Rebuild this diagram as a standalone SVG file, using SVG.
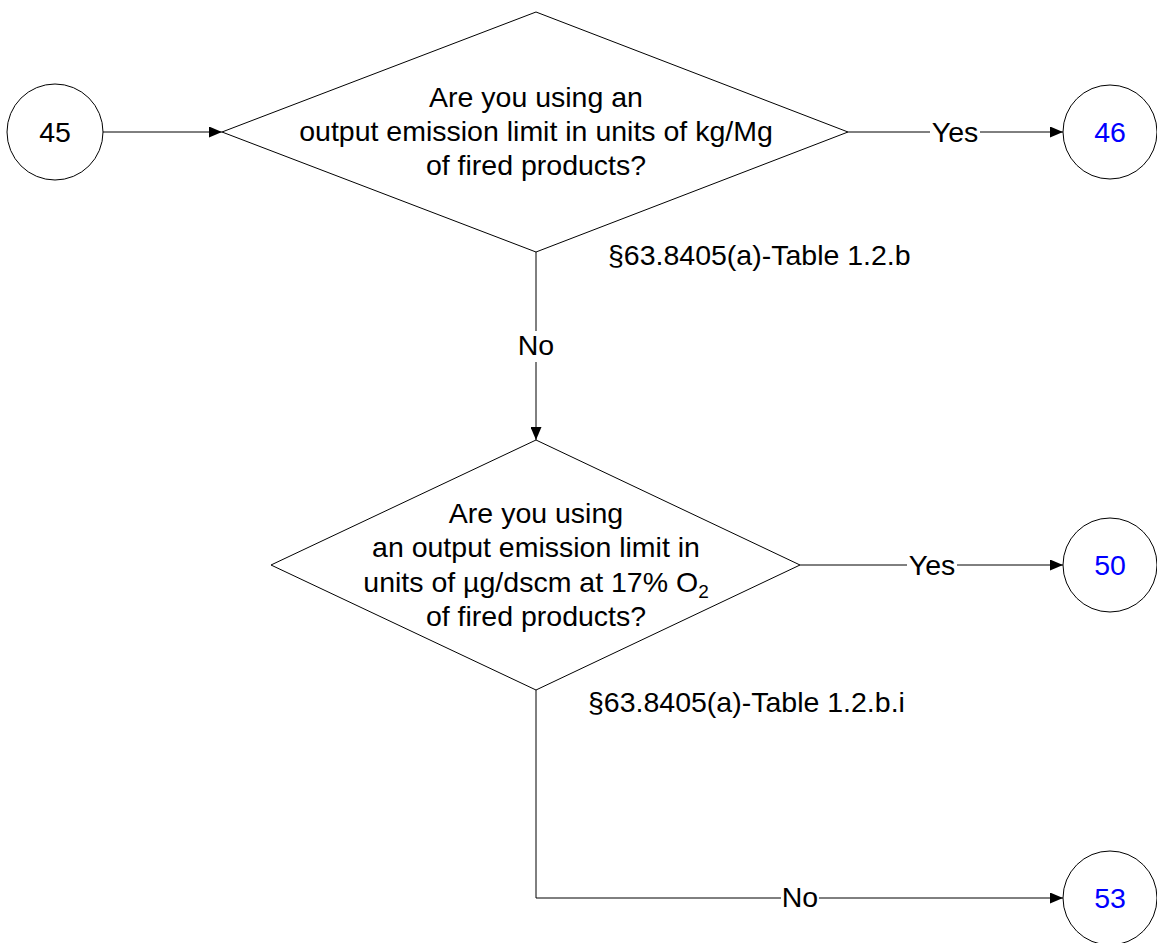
<svg xmlns="http://www.w3.org/2000/svg" width="1157" height="943" viewBox="0 0 1157 943">
<style>
.shape{fill:#fff;stroke:#000;stroke-width:1}
.conn{fill:none;stroke:#000;stroke-width:1}
.t{font-family:"Liberation Sans",Arial,sans-serif;font-size:28.5px;fill:#000;text-anchor:middle}
.lbl{font-family:"Liberation Sans",Arial,sans-serif;font-size:28.5px;fill:#000}
.blue{fill:#0000ff}
.bg{fill:#fff}
</style>
<defs>
<marker id="arr" viewBox="0 0 13 11" refX="13" refY="5.5" markerWidth="13" markerHeight="11" markerUnits="userSpaceOnUse" orient="auto">
<path d="M0,0 L13,5.5 L0,11 Z" fill="#000"/>
</marker>
</defs>
<rect width="1157" height="943" fill="#fff"/>
<g id="connectors">
<line class="conn" x1="103" y1="132" x2="222" y2="132" marker-end="url(#arr)"/>
<line class="conn" x1="848" y1="132" x2="1063" y2="132" marker-end="url(#arr)"/>
<line class="conn" x1="536" y1="252" x2="536" y2="440" marker-end="url(#arr)"/>
<line class="conn" x1="800" y1="565" x2="1063" y2="565" marker-end="url(#arr)"/>
<polyline class="conn" points="536,690 536,898 1063,898" marker-end="url(#arr)"/>
<rect class="bg" x="930" y="118" width="50" height="30"/>
<text class="t" x="955" y="142">Yes</text>
<rect class="bg" x="515" y="331" width="42" height="31"/>
<text class="t" x="536" y="355">No</text>
<rect class="bg" x="907" y="551" width="50" height="30"/>
<text class="t" x="932" y="575">Yes</text>
<rect class="bg" x="781" y="884" width="38" height="30"/>
<text class="t" x="800" y="907">No</text>
</g>
<g id="n45">
<circle class="shape" cx="55" cy="132" r="48"/>
<text class="t" x="55" y="142">45</text>
</g>
<g id="d1">
<polygon class="shape" points="536,12 848,132 536,252 222,132"/>
<text class="t" x="536" y="107">Are you using an</text>
<text class="t" x="536" y="141">output emission limit in units of kg/Mg</text>
<text class="t" x="536" y="175">of fired products?</text>
<text class="lbl" x="608" y="265">§63.8405(a)-Table 1.2.b</text>
</g>
<g id="n46">
<circle class="shape" cx="1110" cy="132" r="47"/>
<text class="t blue" x="1110" y="142">46</text>
</g>
<g id="d2">
<polygon class="shape" points="536,440 800,565 536,690 271,565"/>
<text class="t" x="536" y="523">Are you using</text>
<text class="t" x="536" y="557">an output emission limit in</text>
<text class="t" x="536" y="592">units of µg/dscm at 17% O<tspan font-size="19" dy="6">2</tspan></text>
<text class="t" x="536" y="626">of fired products?</text>
<text class="lbl" x="588" y="712">§63.8405(a)-Table 1.2.b.i</text>
</g>
<g id="n50">
<circle class="shape" cx="1110" cy="565" r="47"/>
<text class="t blue" x="1110" y="575">50</text>
</g>
<g id="n53">
<circle class="shape" cx="1110" cy="898" r="47"/>
<text class="t blue" x="1110" y="908">53</text>
</g>
</svg>
